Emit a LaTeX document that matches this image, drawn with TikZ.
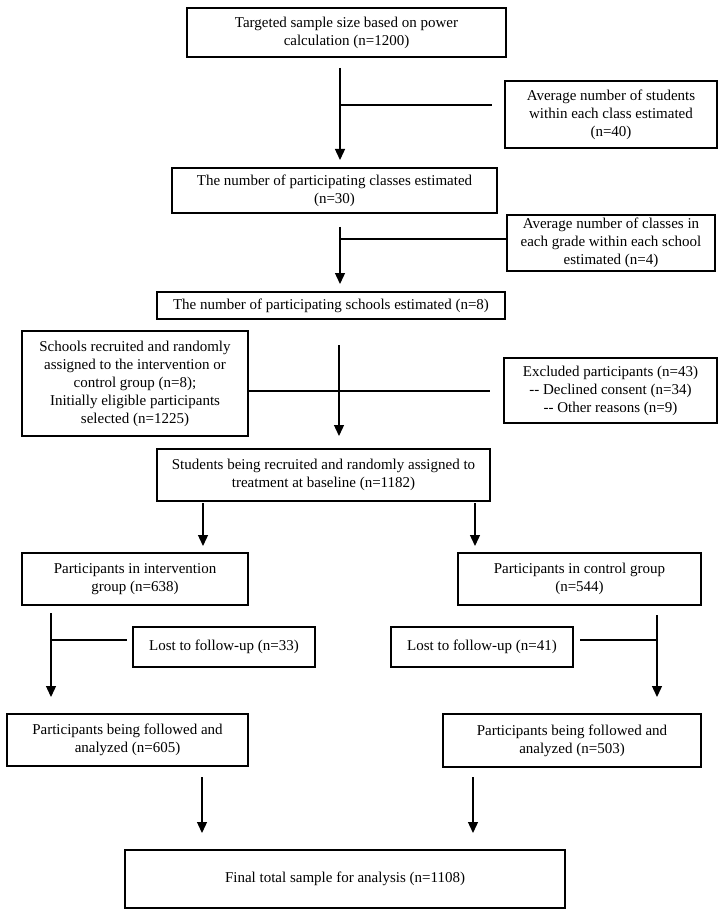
\documentclass[tikz,border=0pt]{standalone}
\usepackage{fontspec}
\setmainfont{Liberation Serif}
\usetikzlibrary{arrows.meta}
\begin{document}
\begin{tikzpicture}[x=1pt,y=-1pt,
  box/.style={draw, line width=1.3pt, align=center, inner sep=0pt, font=\fontsize{15}{18}\selectfont},
  arr/.style={line width=1.3pt, -{Triangle[length=11pt,width=10pt]}},
  ln/.style={line width=1.3pt}]
\fill[white] (0,0) rectangle (725,917);
\useasboundingbox (0,0) rectangle (725,917);

% boxes
\node[box, minimum width=319pt, minimum height=49pt] (b1) at (346.5,32.5)
  {Targeted sample size based on power\\calculation (n=1200)};
\node[box, minimum width=212pt, minimum height=67pt] (b2) at (611,114.5)
  {Average number of students\\within each class estimated\\(n=40)};
\node[box, minimum width=325pt, minimum height=45pt] (b3) at (334.5,190.5)
  {The number of participating classes estimated\\(n=30)};
\node[box, minimum width=208pt, minimum height=56pt] (b4) at (611,243)
  {Average number of classes in\\each grade within each school\\estimated (n=4)};
\node[box, minimum width=348pt, minimum height=27pt] (b5) at (331,305.5)
  {The number of participating schools estimated (n=8)};
\node[box, minimum width=226pt, minimum height=105pt] (b6) at (135,383.5)
  {Schools recruited and randomly\\assigned to the intervention or\\control group (n=8);\\Initially eligible participants\\selected (n=1225)};
\node[box, minimum width=213pt, minimum height=65pt] (b7) at (610.5,390.5)
  {Excluded participants (n=43)\\-{}- Declined consent (n=34)\\-{}- Other reasons (n=9)};
\node[box, minimum width=333pt, minimum height=52pt] (b8) at (323.5,475)
  {Students being recruited and randomly assigned to\\treatment at baseline (n=1182)};
\node[box, minimum width=226pt, minimum height=52pt] (b9) at (135,579)
  {Participants in intervention\\group (n=638)};
\node[box, minimum width=243pt, minimum height=52pt] (b10) at (579.5,579)
  {Participants in control group\\(n=544)};
\node[box, minimum width=182pt, minimum height=40pt] (b11) at (224,647)
  {Lost to follow-up (n=33)};
\node[box, minimum width=182pt, minimum height=40pt] (b12) at (482,647)
  {Lost to follow-up (n=41)};
\node[box, minimum width=241pt, minimum height=52pt] (b13) at (127.5,740)
  {Participants being followed and\\analyzed (n=605)};
\node[box, minimum width=258pt, minimum height=53pt] (b14) at (572,740.5)
  {Participants being followed and\\analyzed (n=503)};
\node[box, minimum width=440pt, minimum height=58pt] (b15) at (345,879)
  {Final total sample for analysis (n=1108)};

% connector points
\coordinate (a1s) at (340,68);  \coordinate (a1e) at (340,160);
\coordinate (a1b) at (340,105); \coordinate (a1r) at (492,105);
\coordinate (a2s) at (340,227); \coordinate (a2e) at (340,284);
\coordinate (a2b) at (340,239);
\coordinate (a3s) at (339,345); \coordinate (a3e) at (339,436);
\coordinate (a3b) at (339,391); \coordinate (a3r) at (490,391);
\coordinate (a4ls) at (203,503); \coordinate (a4le) at (203,546);
\coordinate (a4rs) at (475,503); \coordinate (a4re) at (475,546);
\coordinate (a5s) at (51,613);  \coordinate (a5e) at (51,697);
\coordinate (a5b) at (51,640);  \coordinate (a5r) at (127,640);
\coordinate (a6s) at (657,615); \coordinate (a6e) at (657,697);
\coordinate (a6b) at (657,640); \coordinate (a6l) at (580,640);
\coordinate (a7ls) at (202,777); \coordinate (a7le) at (202,833);
\coordinate (a7rs) at (473,777); \coordinate (a7re) at (473,833);

% connectors
\draw[arr] (a1s) -- (a1e);
\draw[ln] (a1b) -- (a1r);
\draw[arr] (a2s) -- (a2e);
\draw[ln] (a2b) -- (a2b -| b4.west);
\draw[arr] (a3s) -- (a3e);
\draw[ln] (a3b -| b6.east) -- (a3r);
\draw[arr] (a4ls) -- (a4le);
\draw[arr] (a4rs) -- (a4re);
\draw[arr] (a5s) -- (a5e);
\draw[ln] (a5b) -- (a5r);
\draw[arr] (a6s) -- (a6e);
\draw[ln] (a6l) -- (a6b);
\draw[arr] (a7ls) -- (a7le);
\draw[arr] (a7rs) -- (a7re);
\end{tikzpicture}
\end{document}
